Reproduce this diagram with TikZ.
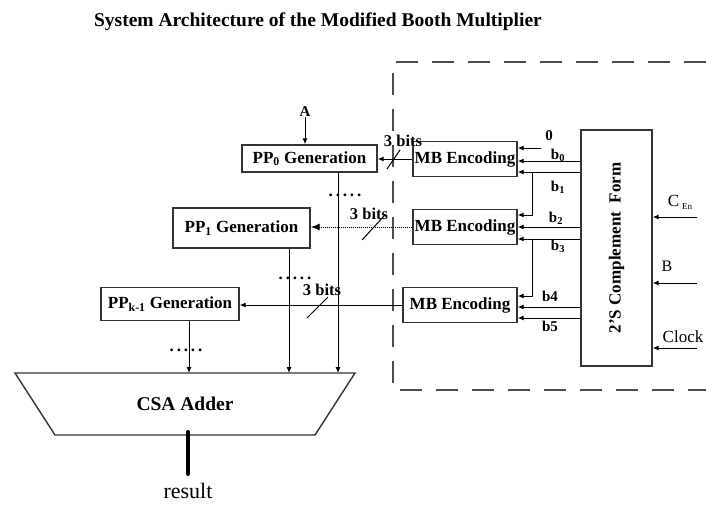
\documentclass[tikz,border=0pt]{standalone}
\usepackage{fontspec}
\setmainfont{Liberation Serif}
\usetikzlibrary{arrows.meta}
\begin{document}
\begin{tikzpicture}[x=1pt,y=-1pt,
  box/.style={draw=black!80, line width=1.4pt, inner sep=0pt, font=\fontsize{17}{17}\selectfont\bfseries},
  arr/.style={line width=1pt, -{Latex[length=6pt,width=5pt]}},
  ln/.style={line width=1pt},
  lbl/.style={inner sep=0pt, font=\fontsize{15}{15}\selectfont\bfseries},
  bits/.style={inner sep=0pt, font=\fontsize{16.5}{16.5}\selectfont\bfseries},
  reg/.style={inner sep=0pt, font=\fontsize{17}{17}\selectfont},
  dotsty/.style={inner sep=0pt, font=\fontsize{17}{17}\selectfont\bfseries}]
\useasboundingbox (0,0) rectangle (706,504);

\node[font=\fontsize{19.5}{20}\selectfont\bfseries, inner sep=0pt] (title) at (318,22) {System Architecture of the Modified Booth Multiplier};

% dashed enclosure
\draw[line width=1.6pt, black!70, dash pattern=on 22pt off 14pt] (706,62) -- (393,62) -- (393,390) -- (706,390);

% MB encoders
\node[box, minimum width=104pt, minimum height=35pt] (mb1) at (465,159) {MB Encoding};
\node[box, minimum width=104pt, minimum height=35pt] (mb2) at (465,227) {MB Encoding};
\node[box, minimum width=114pt, minimum height=35pt] (mb3) at (460,305) {MB Encoding};

% PP generators
\node[box, minimum width=135pt, minimum height=27pt] (pp0) at (309.5,158.5) {PP\textsubscript{0} Generation};
\node[box, minimum width=137pt, minimum height=40pt] (pp1) at (241.5,228) {PP\textsubscript{1} Generation};
\node[box, minimum width=138pt, minimum height=33pt] (ppk) at (170,304) {PP\textsubscript{k-1} Generation};

% 2's complement
\node[box, minimum width=71pt, minimum height=236pt] (comp) at (616.5,248) {};
\node[box, draw=none, rotate=90] (comptxt) at (comp.center) {2'S Complement\ \ Form};

% right-side inputs
\node[reg] (cen) at (680,202) {C\,{\fontsize{9}{9}\selectfont\raisebox{-3pt}{En}}};
\node[reg, font=\fontsize{16}{16}\selectfont] (bin) at (667,266) {B};
\node[reg] (clk) at (683,337) {Clock};
\coordinate (iC) at (697,217);
\coordinate (iB) at (697,283);
\coordinate (iK) at (697,348);
\draw[arr] (iC) -- (iC -| comp.east);
\draw[arr] (iB) -- (iB -| comp.east);
\draw[arr] (iK) -- (iK -| comp.east);

% bits into MB encoders
\node[lbl] (z0) at (549,136) {0};
\coordinate (zs) at (541,148);
\draw[arr] (zs) -- (zs -| mb1.east);
\draw[arr] (comp.west |- 0,161) -- (mb1.east |- 0,161);
\draw[arr] (comp.west |- 0,172) -- (mb1.east |- 0,172);
\coordinate (j1) at (532,172);
\draw[arr] (j1) -- (532,215) -- (mb2.east |- 0,215);
\draw[arr] (comp.west |- 0,227) -- (mb2.east |- 0,227);
\draw[arr] (comp.west |- 0,239) -- (mb2.east |- 0,239);
\coordinate (j3) at (532,239);
\draw[arr] (j3) -- (532,296) -- (mb3.east |- 0,296);
\draw[arr] (comp.west |- 0,307) -- (mb3.east |- 0,307);
\draw[arr] (comp.west |- 0,318) -- (mb3.east |- 0,318);

\node[lbl] (lb0) at (558,155) {b\textsubscript{0}};
\node[lbl] (lb1) at (558,187) {b\textsubscript{1}};
\node[lbl] (lb2) at (556,218) {b\textsubscript{2}};
\node[lbl] (lb3) at (558,246) {b\textsubscript{3}};
\node[lbl] (lb4) at (550,296) {b4};
\node[lbl] (lb5) at (550,326) {b5};

% MB -> PP
\draw[arr] (mb1.west) -- (mb1.west -| pp0.east);
\draw[line width=1pt, densely dotted, -{Latex[length=9pt,width=7pt]}] (mb2.west) -- (mb2.west -| pp1.east);
\draw[arr] (mb3.west) -- (mb3.west -| ppk.east);

\draw[ln] (387,169) -- (400,150);
\draw[ln] (362,240) -- (384,216);
\draw[ln] (307,318) -- (328,297);
\node[bits] (t0) at (403,141) {3 bits};
\node[bits] (t1) at (369,214) {3 bits};
\node[bits] (t2) at (322,290) {3 bits};

% A input
\node[lbl] (A) at (305,112) {A};
\draw[arr] (A.south) -- (A.south |- pp0.north);

% dots
\node[dotsty] (d0) at (345,195) {.\,.\,.\,.\,.};
\node[dotsty] (d1) at (295,278) {.\,.\,.\,.\,.};
\node[dotsty] (d2) at (186,350) {.\,.\,.\,.\,.};

% CSA adder
\draw[draw=black!80, line width=1.4pt] (15,373) -- (355,373) -- (315,435) -- (55,435) -- cycle;
\node[font=\fontsize{19.5}{20}\selectfont\bfseries, inner sep=0pt] (csa) at (185,404) {CSA Adder};
\coordinate (c0) at (338,373);
\coordinate (c1) at (289,373);
\coordinate (c2) at (189,373);
\draw[arr] (pp0.south -| c0) -- (c0);
\draw[arr] (pp1.south -| c1) -- (c1);
\draw[arr] (ppk.south -| c2) -- (c2);

% result
\node[inner sep=0pt, anchor=base, font=\fontsize{22}{22}\selectfont] (result) at (188,498) {result};
\coordinate (o1) at (188,432);
\coordinate (o2) at (188,474);
\draw[line width=4pt, line cap=round] (o1) -- (o2);
\end{tikzpicture}
\end{document}
